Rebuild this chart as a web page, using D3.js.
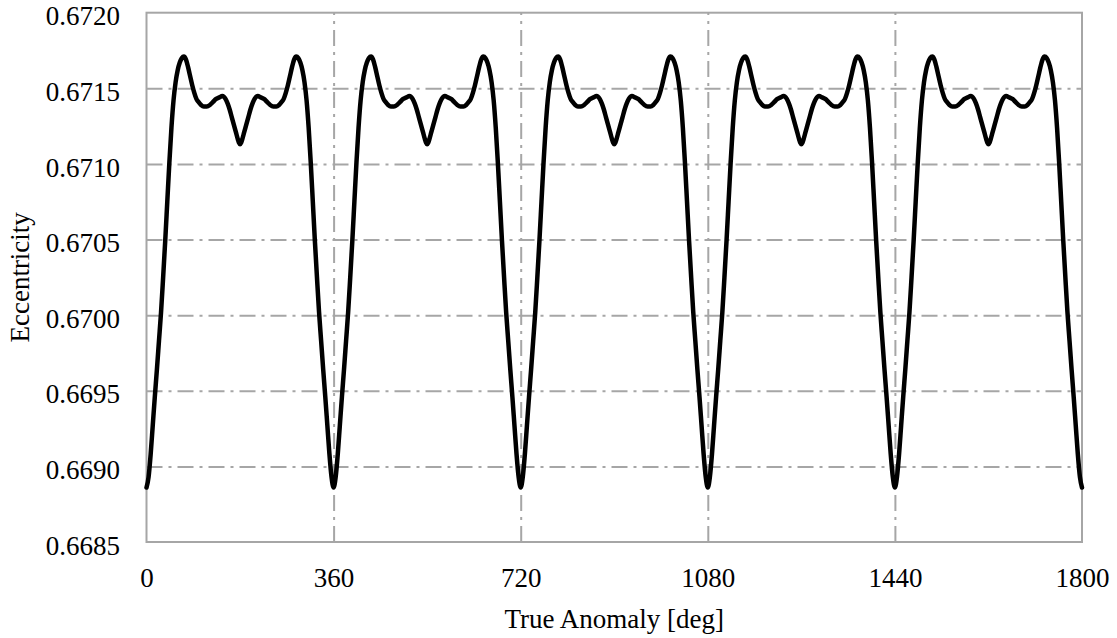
<!DOCTYPE html>
<html>
<head>
<meta charset="utf-8">
<script src="https://cdn.jsdelivr.net/npm/d3@7"></script>
<style>
  html, body { margin: 0; padding: 0; background: #fff; }
  svg { display: block; font-family: "Liberation Serif", "Times New Roman", serif; }
</style>
</head>
<body>
<svg id="chart" width="1117" height="638"></svg>
<script>
// One orbit of the osculating eccentricity, true anomaly in degrees (0..360)
const orbitAngle = [
  0, 4, 8, 12, 16, 20, 24, 28, 32, 36, 40, 44, 48, 52, 56, 60, 64, 68, 72,
  76, 80, 84, 88, 92, 96, 100, 105, 110, 116, 122, 128, 134, 140, 146,
  152, 156, 160, 164, 168, 172, 176, 178, 180, 182, 184, 188, 192, 196,
  200, 204, 208, 214, 220, 226, 232, 238, 244, 250, 255, 260, 264, 268,
  272, 276, 280, 284, 288, 292, 296, 300, 304, 308, 312, 316, 320, 324,
  328, 332, 336, 340, 344, 348, 352, 356, 360
];
const orbitEcc = [
  0.66886, 0.66893, 0.66908, 0.66927, 0.66946, 0.66964, 0.66983, 0.67002,
  0.67025, 0.67049, 0.67075, 0.67101, 0.67124, 0.67142, 0.67154, 0.67162,
  0.67167, 0.67170, 0.67171,
  0.67169, 0.67164, 0.67158, 0.67152, 0.67147, 0.67143, 0.67141, 0.67139,
  0.67138, 0.67138, 0.67139, 0.67141, 0.67143, 0.67144, 0.67145,
  0.67143, 0.67140, 0.67136, 0.67131, 0.67126, 0.67121, 0.67116, 0.67114,
  0.67113, 0.67114, 0.67116, 0.67121, 0.67126, 0.67131,
  0.67136, 0.67140, 0.67143, 0.67145, 0.67144, 0.67143, 0.67141, 0.67139,
  0.67138, 0.67138, 0.67139, 0.67141, 0.67143, 0.67147,
  0.67152, 0.67158, 0.67164, 0.67169, 0.67171, 0.67170, 0.67167, 0.67162,
  0.67154, 0.67142, 0.67124, 0.67101, 0.67075, 0.67049,
  0.67025, 0.67002, 0.66983, 0.66964, 0.66946, 0.66927, 0.66908, 0.66893,
  0.66886
];
// The propagation covers five consecutive orbits
const orbitStart = [0, 360, 720, 1080, 1440];

const xTicks = [0, 360, 720, 1080, 1440, 1800];
const yTicks = [0.6685, 0.6690, 0.6695, 0.6700, 0.6705, 0.6710, 0.6715, 0.6720];

const xTitle = "True Anomaly [deg]";
const yTitle = "Eccentricity";

(function () {
  // Full series, sharing the end point of each orbit with the next
  const series = [];
  orbitStart.forEach((start, k) => {
    orbitAngle.forEach((a, i) => {
      if (i === 0 && k > 0) return;
      series.push([start + a, orbitEcc[i]]);
    });
  });

  const svg = d3.select("#chart");
  const plotLeft = 146.5, plotRight = 1082, plotTop = 12.7, plotBottom = 542;
  const gridColor = "#a6a6a6";
  const fontSize = 27;

  const x = d3.scaleLinear().domain([0, 1800]).range([plotLeft, plotRight]);
  const y = d3.scaleLinear().domain([0.6685, 0.6720]).range([plotBottom, plotTop]);

  // Horizontal grid (long dash-dot)
  const yGrid = svg.append("g")
    .attr("transform", `translate(${plotLeft},0)`)
    .call(d3.axisLeft(y).tickValues(yTicks.slice(1, -1)).tickSize(-(plotRight - plotLeft)).tickFormat(""));
  yGrid.select(".domain").remove();
  yGrid.selectAll("line")
    .attr("stroke", gridColor).attr("stroke-width", 2).attr("stroke-dasharray", "16,6,3,6");

  // Vertical grid
  const xGrid = svg.append("g")
    .attr("transform", `translate(0,${plotBottom})`)
    .call(d3.axisBottom(x).tickValues(xTicks.slice(1, -1)).tickSize(-(plotBottom - plotTop)).tickFormat(""));
  xGrid.select(".domain").remove();
  xGrid.selectAll("line")
    .attr("stroke", gridColor).attr("stroke-width", 2).attr("stroke-dasharray", "16,6,3,6");

  // Plot frame
  svg.append("rect")
    .attr("x", x(0)).attr("y", y(0.6720))
    .attr("width", x(1800) - x(0)).attr("height", y(0.6685) - y(0.6720))
    .attr("fill", "none").attr("stroke", gridColor).attr("stroke-width", 2);

  // Tick labels
  const yAxis = svg.append("g")
    .attr("transform", `translate(${plotLeft},0)`)
    .call(d3.axisLeft(y).tickValues(yTicks).tickSize(0).tickPadding(26.5).tickFormat(d3.format(".4f")));
  yAxis.select(".domain").remove();
  yAxis.selectAll("text")
    .attr("dy", "0.45em")
    .attr("font-family", "Liberation Serif, serif").attr("font-size", fontSize).attr("fill", "#000");

  const xAxis = svg.append("g")
    .attr("transform", `translate(0,${plotBottom})`)
    .call(d3.axisBottom(x).tickValues(xTicks).tickSize(0).tickPadding(26).tickFormat(d3.format("d")));
  xAxis.select(".domain").remove();
  xAxis.selectAll("text")
    .attr("font-family", "Liberation Serif, serif").attr("font-size", fontSize).attr("fill", "#000");

  // Axis titles
  svg.append("text")
    .attr("x", (plotLeft + plotRight) / 2).attr("y", 628)
    .attr("text-anchor", "middle").attr("font-size", fontSize).attr("fill", "#000")
    .text(xTitle);

  svg.append("text")
    .attr("transform", `translate(29,${(plotTop + plotBottom) / 2}) rotate(-90)`)
    .attr("text-anchor", "middle").attr("font-size", fontSize).attr("fill", "#000")
    .text(yTitle);

  // Eccentricity curve
  const line = d3.line()
    .x(d => x(d[0]))
    .y(d => y(d[1]))
    .curve(d3.curveMonotoneX);

  svg.append("path")
    .datum(series)
    .attr("d", line)
    .attr("fill", "none")
    .attr("stroke", "#000")
    .attr("stroke-width", 4.5)
    .attr("stroke-linejoin", "round")
    .attr("stroke-linecap", "round");
})();
</script>
</body>
</html>
